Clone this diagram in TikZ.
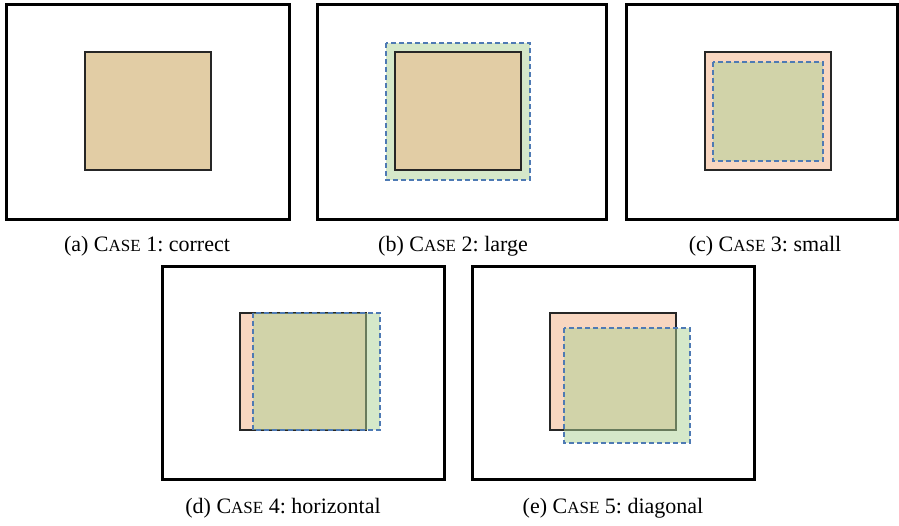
\documentclass[tikz,border=0pt]{standalone}
\usepackage{fontspec}
\setmainfont{Liberation Serif}
\definecolor{tanc}{RGB}{226,205,165}
\definecolor{salmonc}{RGB}{248,214,192}
\definecolor{greenc}{RGB}{171,209,147}
\definecolor{dashblue}{RGB}{78,122,180}
\newcommand{\myCase}{C{\fontsize{17}{19}\selectfont ASE}}
\tikzset{
  frame/.style={draw=black, line width=3pt},
  truth/.style={draw=black!85, line width=1.1pt},
  pred/.style={draw=dashblue, dash pattern=on 5pt off 3pt, line width=1.2pt, fill=greenc, fill opacity=0.5},
  captext/.style={font=\fontsize{22}{25}\selectfont, anchor=center, inner sep=0pt}
}
\begin{document}
\begin{tikzpicture}[x=1pt,y=-1pt]
\useasboundingbox (0,0) rectangle (899,525);
% (a)
\draw[frame] (6,4) rectangle (289,219);
\draw[truth, fill=tanc] (85,52) rectangle (211,170);
\node[captext] (capa) at (147,246) {(a) \myCase{} 1:\ correct};
% (b)
\draw[frame] (317,4) rectangle (606,219);
\draw[pred] (386,43) rectangle (530,180);
\draw[truth, fill=tanc] (395,52) rectangle (521,170);
\node[captext] (capb) at (453,246) {(b) \myCase{} 2:\ large};
% (c)
\draw[frame] (626,4) rectangle (897,219);
\draw[truth, fill=salmonc] (705,52) rectangle (831,170);
\draw[pred] (713,62) rectangle (823,161);
\node[captext] (capc) at (765,246) {(c) \myCase{} 3:\ small};
% (d)
\draw[frame] (162,266) rectangle (444,479);
\draw[truth, fill=salmonc] (240,313) rectangle (366,430);
\draw[pred] (253,313) rectangle (380,430);
\node[captext] (capd) at (283,508) {(d) \myCase{} 4:\ horizontal};
% (e)
\draw[frame] (472,266) rectangle (754,479);
\draw[truth, fill=salmonc] (550,313) rectangle (676,430);
\draw[pred] (564,328) rectangle (690,443);
\node[captext] (cape) at (613,508) {(e) \myCase{} 5:\ diagonal};
\end{tikzpicture}
\end{document}
